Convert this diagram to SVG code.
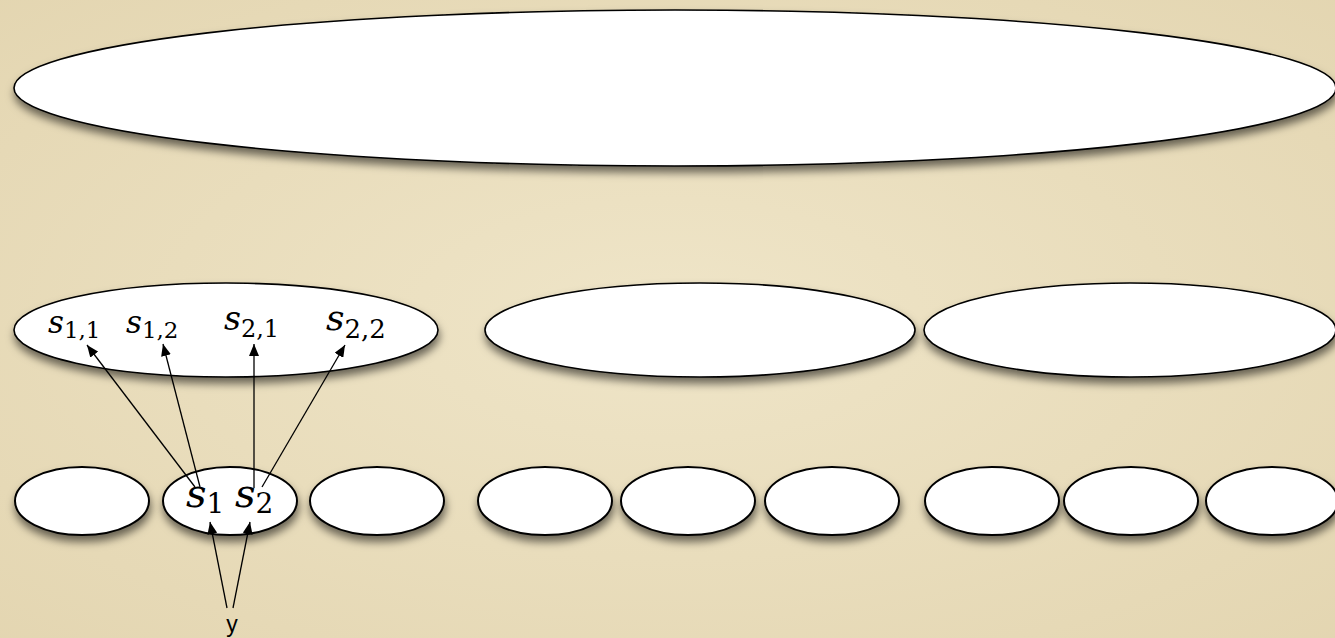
<svg xmlns="http://www.w3.org/2000/svg" width="1335" height="638" viewBox="0 0 1335 638">
  <defs>
    <radialGradient id="bg" cx="50%" cy="50%" r="75%">
      <stop offset="0" stop-color="#EFE5C8"/>
      <stop offset="1" stop-color="#E3D5B0"/>
    </radialGradient>
    <filter id="sh" x="-10%" y="-20%" width="120%" height="160%">
      <feDropShadow dx="1" dy="6" stdDeviation="4" flood-color="#000" flood-opacity="0.55"/>
    </filter>
    <marker id="ah" viewBox="0 0 12 10" refX="12" refY="5" markerWidth="12" markerHeight="10" markerUnits="userSpaceOnUse" orient="auto">
      <path d="M0,0 L12,5 L0,10 Z" fill="#000"/>
    </marker>
    <style>
      .node { fill: #fff; stroke: #000; stroke-width: 1.6; filter: url(#sh); }
      .small { stroke-width: 2; }
      .edge { stroke: #000; stroke-width: 1.3; fill: none; marker-end: url(#ah); }
      .m { font-family: "DejaVu Serif", serif; font-style: italic; fill: #000; }
      .sub { font-family: "DejaVu Serif", serif; font-style: normal; fill: #000; }
      .lbl { font-family: "Liberation Sans", Arial, sans-serif; fill: #000; }
    </style>
  </defs>
  <rect x="0" y="0" width="1335" height="638" fill="url(#bg)"/>

  <g id="top"><ellipse class="node" cx="675" cy="88" rx="661" ry="78"/></g>

  <g id="mid1">
    <ellipse class="node" cx="226" cy="330" rx="212" ry="47"/>
    <text x="48" y="333"><tspan class="m" font-size="31">s</tspan><tspan class="sub" font-size="23" dy="5">1,1</tspan></text>
    <text x="126" y="333"><tspan class="m" font-size="31">s</tspan><tspan class="sub" font-size="23" dy="5">1,2</tspan></text>
    <text x="224" y="330"><tspan class="m" font-size="33">s</tspan><tspan class="sub" font-size="24" dy="7">2,1</tspan></text>
    <text x="326" y="330"><tspan class="m" font-size="36">s</tspan><tspan class="sub" font-size="26" dy="8">2,2</tspan></text>
  </g>
  <g id="mid2"><ellipse class="node" cx="700" cy="330" rx="215" ry="47"/></g>
  <g id="mid3"><ellipse class="node" cx="1130" cy="330" rx="206" ry="47"/></g>

  <g id="b1"><ellipse class="node small" cx="82" cy="501" rx="67" ry="34"/></g>
  <g id="b2">
    <ellipse class="node small" cx="230" cy="501" rx="67" ry="34"/>
    <text x="186" y="507"><tspan class="m" font-size="40">s</tspan><tspan class="sub" font-size="28" dy="6">1</tspan></text>
    <text x="235" y="507"><tspan class="m" font-size="40">s</tspan><tspan class="sub" font-size="28" dy="6">2</tspan></text>
  </g>
  <g id="b3"><ellipse class="node small" cx="377" cy="501" rx="67" ry="34"/></g>
  <g id="b4"><ellipse class="node small" cx="545" cy="501" rx="67" ry="34"/></g>
  <g id="b5"><ellipse class="node small" cx="688" cy="501" rx="67" ry="34"/></g>
  <g id="b6"><ellipse class="node small" cx="832" cy="501" rx="67" ry="34"/></g>
  <g id="b7"><ellipse class="node small" cx="992" cy="501" rx="67" ry="34"/></g>
  <g id="b8"><ellipse class="node small" cx="1131" cy="501" rx="67" ry="34"/></g>
  <g id="b9"><ellipse class="node small" cx="1272" cy="501" rx="66" ry="34"/></g>

  <g id="y"><text class="lbl" x="232" y="632" font-size="23" text-anchor="middle">y</text></g>

  <g id="connectors">
    <line class="edge" x1="195" y1="487" x2="87" y2="345"/>
    <line class="edge" x1="200" y1="487" x2="163" y2="344"/>
    <line class="edge" x1="254" y1="488" x2="254" y2="344"/>
    <line class="edge" x1="262" y1="487" x2="345" y2="345"/>
    <line class="edge" x1="227" y1="608" x2="210" y2="522"/>
    <line class="edge" x1="233" y1="608" x2="250" y2="522"/>
  </g>
</svg>
